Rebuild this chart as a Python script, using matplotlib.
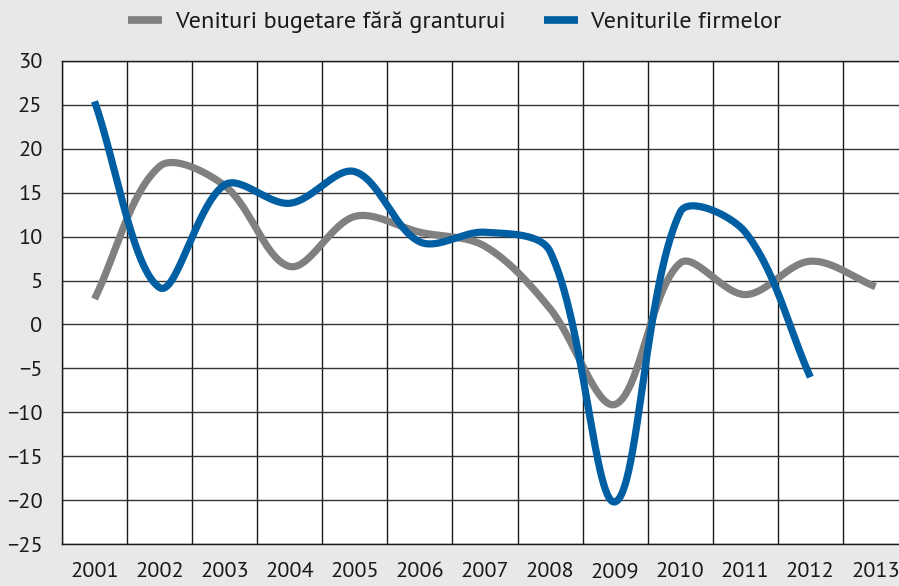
import numpy as np
import matplotlib.pyplot as plt
from matplotlib.lines import Line2D

years = ['2001', '2002', '2003', '2004', '2005', '2006', '2007',
         '2008', '2009', '2010', '2011', '2012', '2013']
venituri_bugetare = [2.9, 18.0, 15.8, 6.6, 12.3, 10.5, 8.9, 1.8, -9.1, 7.0, 3.4, 7.2, 4.3]
venituri_firme = [25.4, 4.2, 15.9, 13.8, 17.4, 9.4, 10.5, 8.3, -20.2, 12.8, 10.5, -6.0]

label_grey = 'Venituri bugetare fără granturui'
label_blue = 'Veniturile firmelor'

GREY = '#808080'
BLUE = '#005ea3'
BG = '#e8e8e8'
INK = '#1a1a1a'

plt.rcParams['font.family'] = ['PT Sans', 'DejaVu Sans']


def smooth(xs, ys, sx=65.0, sy=8.78, n=60):
    # bezier smoothing; tangents are weighted by neighbouring segment lengths
    p = np.column_stack([np.asarray(xs, float) * sx, np.asarray(ys, float) * sy])
    L = np.linalg.norm(np.diff(p, axis=0), axis=1)
    t = np.linspace(0, 1, n)[:, None]
    out = []
    for i in range(len(p) - 1):
        p1, p2 = p[i], p[i + 1]
        p0 = p[i - 1] if i > 0 else p1
        p3 = p[i + 2] if i + 2 < len(p) else p2
        lp = L[i - 1] if i > 0 else 0.0
        ln = L[i + 1] if i + 1 < len(L) else 0.0
        c1 = p1 + (p2 - p0) / 3 * L[i] / (lp + L[i])
        c2 = p2 - (p3 - p1) / 3 * L[i] / (L[i] + ln)
        seg = ((1 - t) ** 3) * p1 + 3 * ((1 - t) ** 2) * t * c1 \
            + 3 * (1 - t) * t ** 2 * c2 + t ** 3 * p2
        out.append(seg if i == 0 else seg[1:])
    out = np.vstack(out)
    return out[:, 0] / sx, out[:, 1] / sy


W, H = 899, 586
fig = plt.figure(figsize=(W / 100, H / 100), dpi=100, facecolor=BG)
ax = fig.add_axes([62 / W, (H - 544) / H, (908 - 62) / W, (544 - 61) / H])
ax.set_facecolor('white')

gx, gy = smooth(range(len(venituri_bugetare)), venituri_bugetare)
bx, by = smooth(range(len(venituri_firme)), venituri_firme)
ax.plot(gx, gy, color=GREY, lw=5.2, solid_capstyle='butt', zorder=3)
ax.plot(bx, by, color=BLUE, lw=5.2, solid_capstyle='butt', zorder=4)

ax.set_xlim(-0.5, len(years) - 0.5)
ax.set_ylim(-25, 30)
ax.set_xticks(range(len(years)))
ax.set_xticklabels(years)
ax.set_xticks(np.arange(-0.5, len(years), 1), minor=True)
ax.set_yticks(np.arange(-25, 31, 5))
ax.grid(True, which='minor', axis='x', color=INK, lw=1.0)
ax.grid(True, which='major', axis='y', color='#333333', lw=1.0)
ax.grid(False, which='major', axis='x')
ax.tick_params(axis='both', which='both', length=0, labelsize=16, colors=INK)
ax.tick_params(axis='y', pad=14)
ax.tick_params(axis='x', pad=13)
for s in ax.spines.values():
    s.set_color(INK)
    s.set_linewidth(1.0)
ax.spines['right'].set_visible(False)

handles = [Line2D([], [], color=GREY, lw=5.5, solid_capstyle='butt'),
           Line2D([], [], color=BLUE, lw=5.5, solid_capstyle='butt')]
fig.legend(handles, [label_grey, label_blue], ncol=2, loc='center',
           bbox_to_anchor=(455 / W, 1 - 22 / H), frameon=False,
           prop={'family': ['PT Sans', 'DejaVu Sans'], 'size': 17.5},
           labelcolor=INK, handlelength=1.4, handletextpad=0.5, columnspacing=1.6)

fig.savefig('out.png', dpi=100, facecolor=BG)
